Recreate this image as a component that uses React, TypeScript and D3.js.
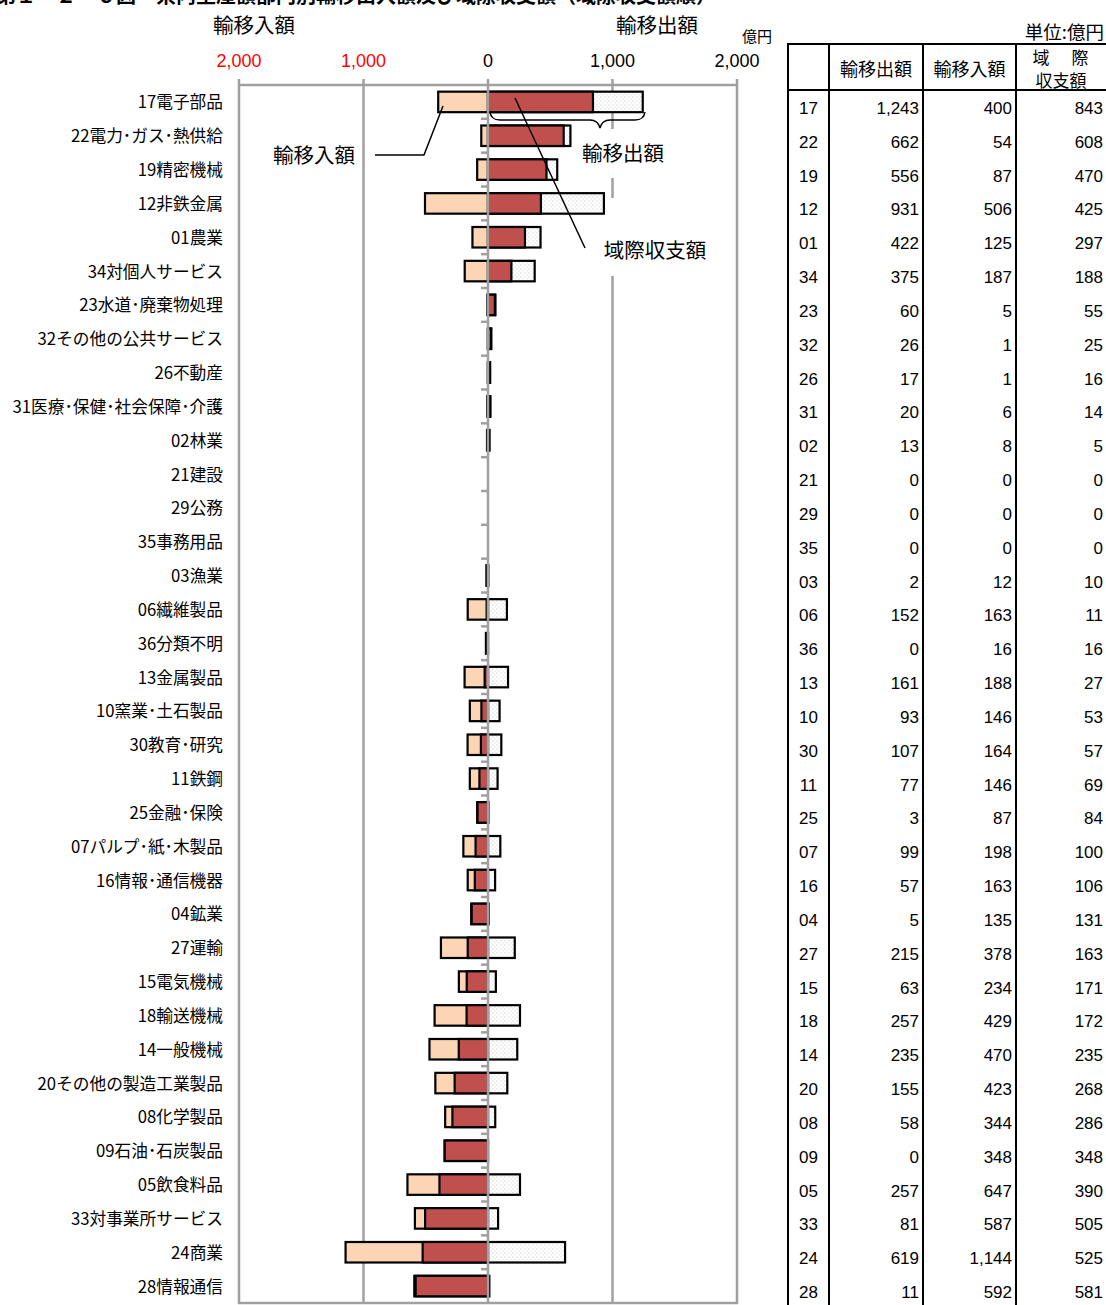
import React from "react";
import * as d3 from "d3";

const codes = ["17","22","19","12","01","34","23","32","26","31","02","21","29","35","03","06","36","13","10","30","11","25","07","16","04","27","15","18","14","20","08","09","05","33","24","28"];
const names = ["電子部品","電力･ガス･熱供給","精密機械","非鉄金属","農業","対個人サービス","水道･廃棄物処理","その他の公共サービス","不動産","医療･保健･社会保障･介護","林業","建設","公務","事務用品","漁業","繊維製品","分類不明","金属製品","窯業･土石製品","教育･研究","鉄鋼","金融･保険","パルプ･紙･木製品","情報･通信機器","鉱業","運輸","電気機械","輸送機械","一般機械","その他の製造工業製品","化学製品","石油･石炭製品","飲食料品","対事業所サービス","商業","情報通信"];
const exportsV = [1243,662,556,931,422,375,60,26,17,20,13,0,0,0,2,152,0,161,93,107,77,3,99,57,5,215,63,257,235,155,58,0,257,81,619,11];
const importsV = [400,54,87,506,125,187,5,1,1,6,8,0,0,0,12,163,16,188,146,164,146,87,198,163,135,378,234,429,470,423,344,348,647,587,1144,592];
const balanceV = [843,608,470,425,297,188,55,25,16,14,5,0,0,0,-10,-11,-16,-27,-53,-57,-69,-84,-100,-106,-131,-163,-171,-172,-235,-268,-286,-348,-390,-505,-525,-581];
const xTicks = [-2000,-1000,0,1000,2000];
const tableHeaders = ["輸移出額","輸移入額"];

const JP = "'Noto Sans CJK JP', 'Noto Sans', sans-serif";
const NUM = "'Liberation Sans', Arial, sans-serif";

export default function App() {
  const W = 1106, H = 1305;
  const x = d3.scaleLinear().domain([-2000, 2000]).range([239, 737]);
  const y = d3.scaleBand<string>().domain(codes).range([85, 1303]).paddingInner(0).paddingOuter(0);
  const bw = y.bandwidth();
  const bh = 20.5;
  const fmt = d3.format(",");
  const grid = "#a0a0a0";
  const rowY = (i: number) => (y(codes[i]) as number) + bw / 2;

  const rect = (a: number, b: number) => {
    const x0 = Math.min(x(a), x(b));
    const x1 = Math.max(x(a), x(b));
    return { x: x0, w: x1 - x0 };
  };

  const tL = 788, c1 = 829, c2 = 923, c3 = 1016, tR = 1108;

  return (
    <svg width={W} height={H} style={{ position: "absolute", left: 0, top: 0, background: "#fff" }}>
      <defs>
        <pattern id="dots" width="4" height="4" patternUnits="userSpaceOnUse">
          <rect width="4" height="4" fill="#fff" />
          <rect x="0.5" y="0.5" width="1" height="1" fill="#c0c0c0" />
          <rect x="2.5" y="2.5" width="1" height="1" fill="#d0d0d0" />
        </pattern>
      </defs>

      {/* title (cut off at top, as in the reference) */}
      <text x={-4} y={3} fontFamily={JP} fontWeight="bold" fontSize={20} fill="#000">
        第１－２－６図　県内生産額部門別輸移出入額及び域際収支額（域際収支額順）
      </text>

      <text x={254} y={33} textAnchor="middle" fontFamily={JP} fontSize={20.5}>輸移入額</text>
      <text x={657} y={33} textAnchor="middle" fontFamily={JP} fontSize={20.5}>輸移出額</text>
      <text x={757} y={42} textAnchor="middle" fontFamily={JP} fontSize={15}>億円</text>
      {xTicks.map((t) => (
        <text key={t} x={x(t)} y={67} textAnchor="middle" fontFamily={NUM} fontSize={18}
          fill={t < 0 ? "#ff0000" : "#000"}>{fmt(Math.abs(t))}</text>
      ))}

      {xTicks.filter((t) => t !== 0).map((t) => (
        <line key={t} x1={x(t)} x2={x(t)} y1={79} y2={1304} stroke={grid} strokeWidth={2.5} />
      ))}
      <line x1={x(0)} x2={x(0)} y1={79} y2={85} stroke={grid} strokeWidth={2.5} />
      <line x1={x(-2000) - 1} x2={x(2000) + 1} y1={85} y2={85} stroke={grid} strokeWidth={2.5} />
      <line x1={x(-2000) - 1} x2={x(2000) + 1} y1={1303} y2={1303} stroke={grid} strokeWidth={2.5} />

      <rect x={574} y={129} width={98} height={49} fill="#fff" />
      <rect x={598} y={198} width={114} height={78} fill="#fff" />

      {codes.map((c, i) => {
        const cy = rowY(i);
        const top = cy - bh / 2;
        const imp = rect(-importsV[i], 0);
        const exp = rect(0, exportsV[i]);
        const bal = rect(0, balanceV[i]);
        return (
          <g key={c} stroke="#000" strokeWidth={2.2}>
            {importsV[i] > 0 && <rect x={imp.x} y={top} width={imp.w} height={bh} fill="#fcd5b5" />}
            {exportsV[i] > 0 && <rect x={exp.x} y={top} width={exp.w} height={bh} fill="url(#dots)" />}
            {balanceV[i] !== 0 && <rect x={bal.x} y={top} width={bal.w} height={bh} fill="#c0504d" />}
          </g>
        );
      })}

      <line x1={x(0)} x2={x(0)} y1={85} y2={1304} stroke={grid} strokeWidth={2.5} />
      {codes.slice(1).map((c) => (
        <line key={c} x1={x(0) - 7} x2={x(0)} y1={y(c)} y2={y(c)} stroke={grid} strokeWidth={2.5} />
      ))}

      {codes.map((c, i) => (
        <text key={c} x={223} y={rowY(i) + 6.5} textAnchor="end" fontFamily={JP} fontSize={16.7} fill="#000">
          {c}{names[i]}
        </text>
      ))}

      <polyline points="375,155 424,155 443,106" fill="none" stroke="#000" strokeWidth={1.5} />
      <text x={314} y={163} textAnchor="middle" fontFamily={JP} fontSize={20.5}>輸移入額</text>
      <path d="M490,112 Q491,120 500,120 L590,120 Q598,120 600,128 Q602,120 610,120 L635,120 Q644,120 645,112"
        fill="none" stroke="#000" strokeWidth={1.5} />
      <text x={623} y={161} textAnchor="middle" fontFamily={JP} fontSize={20.5}>輸移出額</text>
      <line x1={515} y1={98} x2={585} y2={248} stroke="#000" strokeWidth={1.5} />
      <text x={655} y={258} textAnchor="middle" fontFamily={JP} fontSize={20.5}>域際収支額</text>

      <text x={1104} y={39} textAnchor="end" fontFamily={JP} fontSize={18.5}>単位:億円</text>
      <line x1={tL} x2={tR} y1={44} y2={44} stroke="#000" strokeWidth={2} />
      <line x1={tL} x2={tR} y1={90} y2={90} stroke="#000" strokeWidth={2} />
      {[tL, c1, c2, c3].map((lx) => (
        <line key={lx} x1={lx} x2={lx} y1={43} y2={1305} stroke="#000" strokeWidth={2} />
      ))}
      <text x={(c1 + c2) / 2} y={76} textAnchor="middle" fontFamily={JP} fontSize={18}>{tableHeaders[0]}</text>
      <text x={(c2 + c3) / 2} y={76} textAnchor="middle" fontFamily={JP} fontSize={18}>{tableHeaders[1]}</text>
      <text x={1041} y={64} textAnchor="middle" fontFamily={JP} fontSize={17}>域</text>
      <text x={1080} y={64} textAnchor="middle" fontFamily={JP} fontSize={17}>際</text>
      <text x={1061} y={87} textAnchor="middle" fontFamily={JP} fontSize={17}>収支額</text>
      {codes.map((c, i) => {
        const ty = rowY(i) + 12;
        return (
          <g key={c} fontFamily={NUM} fontSize={17} fill="#000">
            <text x={(tL + c1) / 2} y={ty} textAnchor="middle">{c}</text>
            <text x={c2 - 4} y={ty} textAnchor="end">{fmt(exportsV[i])}</text>
            <text x={c3 - 4} y={ty} textAnchor="end">{fmt(importsV[i])}</text>
            <text x={1103} y={ty} textAnchor="end">{fmt(Math.abs(balanceV[i]))}</text>
          </g>
        );
      })}
    </svg>
  );
}
